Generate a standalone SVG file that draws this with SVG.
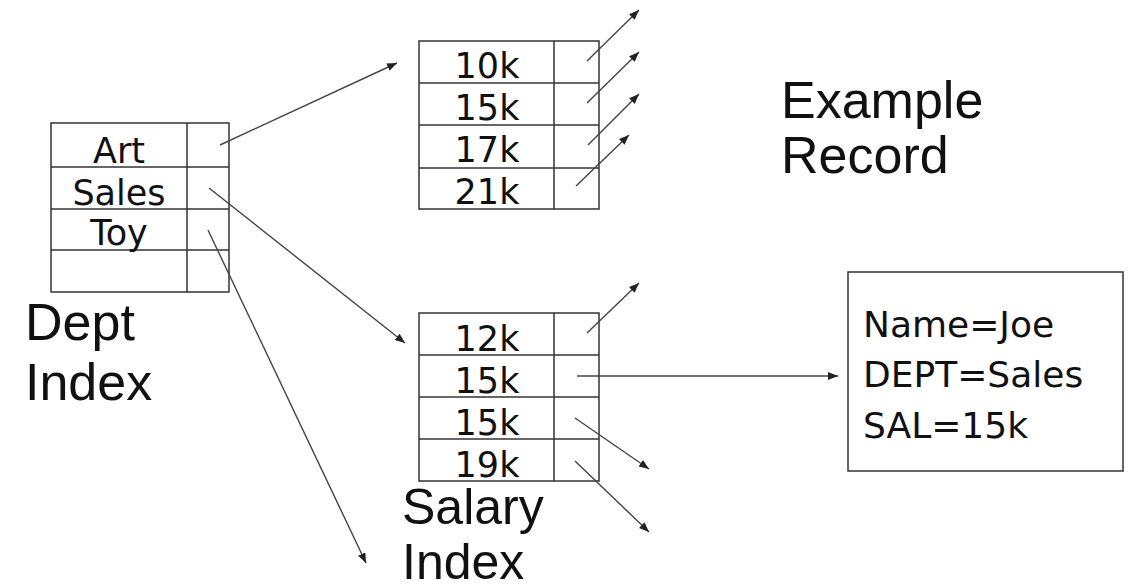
<svg xmlns="http://www.w3.org/2000/svg" width="1132" height="588" viewBox="0 0 1132 588">
<style>
.box{fill:none;stroke:#333;stroke-width:1.5}
.ln{stroke:#333;stroke-width:1.5}
.cell{font-family:"DejaVu Sans",Verdana,sans-serif;font-size:35px;fill:#111;text-anchor:middle}
.rec{font-family:"DejaVu Sans",Verdana,sans-serif;font-size:36px;fill:#111}
.lbl{font-family:"Liberation Sans",Arial,sans-serif;font-size:52px;fill:#111}
.arr{stroke:#444;stroke-width:1.4;fill:none;marker-end:url(#ah)}
</style>
<defs>
<marker id="ah" markerUnits="userSpaceOnUse" markerWidth="11" markerHeight="9" refX="10" refY="4" orient="auto">
<path d="M0,0 L10,4 L0,8 z" fill="#222"/>
</marker>
</defs>
<rect width="1132" height="588" fill="#fff"/>
<g id="dept-index">
<rect class="box" x="51" y="123" width="178" height="169"/>
<line class="ln" x1="187" y1="123" x2="187" y2="292"/>
<line class="ln" x1="51" y1="167" x2="229" y2="167"/>
<line class="ln" x1="51" y1="209" x2="229" y2="209"/>
<line class="ln" x1="51" y1="250" x2="229" y2="250"/>
<text class="cell" x="119" y="163">Art</text>
<text class="cell" x="119" y="205">Sales</text>
<text class="cell" x="119" y="245">Toy</text>
</g>
<g id="dept-label">
<text class="lbl" x="25" y="340">Dept</text>
<text class="lbl" x="25" y="400">Index</text>
</g>
<g id="salary-top">
<rect class="box" x="419" y="41" width="180" height="168"/>
<line class="ln" x1="554" y1="41" x2="554" y2="209"/>
<line class="ln" x1="419" y1="83" x2="599" y2="83"/>
<line class="ln" x1="419" y1="125" x2="599" y2="125"/>
<line class="ln" x1="419" y1="168" x2="599" y2="168"/>
<text class="cell" x="487" y="78">10k</text>
<text class="cell" x="487" y="120">15k</text>
<text class="cell" x="487" y="162">17k</text>
<text class="cell" x="487" y="204">21k</text>
</g>
<g id="salary-bottom">
<rect class="box" x="419" y="313" width="180" height="168"/>
<line class="ln" x1="554" y1="313" x2="554" y2="481"/>
<line class="ln" x1="419" y1="355" x2="599" y2="355"/>
<line class="ln" x1="419" y1="397" x2="599" y2="397"/>
<line class="ln" x1="419" y1="439" x2="599" y2="439"/>
<text class="cell" x="487" y="351">12k</text>
<text class="cell" x="487" y="393">15k</text>
<text class="cell" x="487" y="435">15k</text>
<text class="cell" x="487" y="477">19k</text>
</g>
<g id="salary-label">
<text class="lbl" x="402" y="524" style="font-size:50px">Salary</text>
<text class="lbl" x="402" y="579" style="font-size:50px">Index</text>
</g>
<g id="example-label">
<text class="lbl" x="781" y="118">Example</text>
<text class="lbl" x="781" y="173">Record</text>
</g>
<g id="record">
<rect class="box" x="848" y="272" width="275" height="199"/>
<text class="rec" x="863" y="337">Name=Joe</text>
<text class="rec" x="863" y="387">DEPT=Sales</text>
<text class="rec" x="863" y="438">SAL=15k</text>
</g>
<g id="connectors">
<line class="arr" x1="220" y1="145" x2="397" y2="63"/>
<line class="arr" x1="209" y1="188" x2="405" y2="343"/>
<line class="arr" x1="208" y1="230" x2="366" y2="563"/>
<line class="arr" x1="587" y1="61" x2="639" y2="10"/>
<line class="arr" x1="587" y1="103" x2="639" y2="52"/>
<line class="arr" x1="588" y1="145" x2="639" y2="94"/>
<line class="arr" x1="576" y1="186" x2="629" y2="135"/>
<line class="arr" x1="587" y1="333" x2="639" y2="283"/>
<line class="arr" x1="577" y1="376" x2="838" y2="376"/>
<line class="arr" x1="575" y1="418" x2="649" y2="469"/>
<line class="arr" x1="575" y1="461" x2="649" y2="532"/>
</g>
</svg>
